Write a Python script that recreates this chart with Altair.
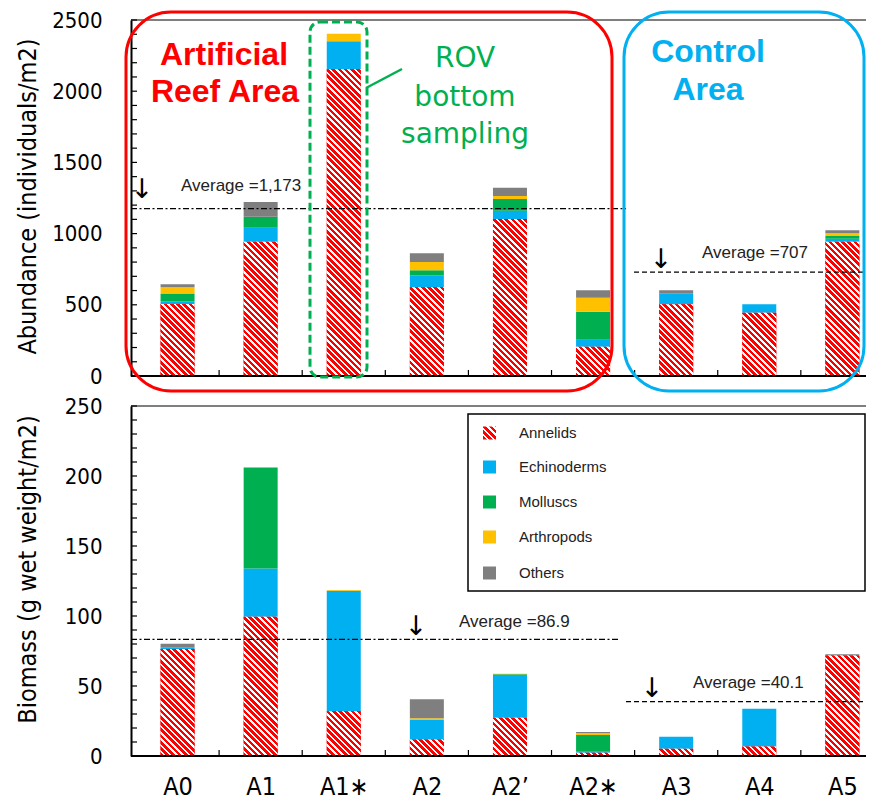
import math
import altair as alt
import pandas as pd

# ---------------- data ----------------
sites = ["A0", "A1", "A1∗", "A2", "A2’", "A2∗", "A3", "A4", "A5"]
taxa = ["Annelids", "Echinoderms", "Molluscs", "Arthropods", "Others"]
taxa_colors = ["#ff0000", "#00b0f0", "#00b050", "#ffc000", "#7f7f7f"]

abund_annelids = [505, 943, 2154, 623, 1102, 206, 503, 445, 943]
abund_echino = [20, 98, 196, 84, 59, 49, 78, 58, 21]
abund_mollusc = [55, 78, 0, 35, 82, 197, 0, 0, 19]
abund_arthro = [43, 0, 54, 58, 21, 98, 0, 0, 19]
abund_others = [21, 103, 0, 62, 58, 52, 21, 0, 21]

bio_annelids = [76.5, 99.5, 32.0, 11.7, 27.4, 2.4, 5.2, 6.7, 71.7]
bio_echino = [1.2, 34.5, 86.0, 14.3, 30.5, 0.7, 8.6, 27.1, 0.0]
bio_mollusc = [0.0, 72.0, 0.0, 0.0, 0.5, 11.9, 0.0, 0.0, 0.0]
bio_arthro = [0.0, 0.0, 0.6, 1.0, 0.4, 1.4, 0.0, 0.0, 0.0]
bio_others = [2.4, 0.0, 0.0, 13.5, 0.0, 0.7, 0.0, 0.0, 0.9]

abund_avg_values = [1175, 730]
abund_avg_labels = ["Average =1,173", "Average =707"]
bio_avg_values = [83.3, 38.8]
bio_avg_labels = ["Average =86.9", "Average =40.1"]

# ---------------- layout constants ----------------
W = 735          # visible plot width (the original frame runs past the right edge)
STEP = 84.25     # pixel distance between neighbouring sites
X_MAX = -0.5 + W / STEP
H_TOP = 356
H_BOT = 350
BAR_W = 34
RED = "#ff0000"
GREEN = "#00b050"
BLUE = "#00b0f0"
AXIS_FONT = "DejaVu Sans Condensed, DejaVu Sans, sans-serif"
TEXT_FONT = "Liberation Sans, Arial, sans-serif"
LABEL_EXPR = "[" + ",".join("'" + s + "'" for s in sites) + "][datum.value]"


def hatch(w, h, period=4.4, frac=0.58):
    h = max(h, 0.5)
    L = (w + h) / math.sqrt(2)
    stops = []
    k = 0
    while k * period < L:
        o0 = round(k * period / L, 5)
        o1 = round(min((k + frac) * period / L, 1), 5)
        o2 = round(min((k + 1) * period / L, 1), 5)
        stops += [
            alt.GradientStop(offset=o0, color=RED),
            alt.GradientStop(offset=o1, color=RED),
            alt.GradientStop(offset=o1, color="#ffffff"),
            alt.GradientStop(offset=o2, color="#ffffff"),
        ]
        k += 1
    d = w * w + h * h
    return alt.LinearGradient(
        gradient="linear", stops=stops,
        x1=0, y1=1, x2=w * (w + h) / d, y2=1 - h * (w + h) / d,
    )


def long_df(series_list):
    rows = []
    for ti, (taxon, vals) in enumerate(zip(taxa, series_list)):
        for i, (s, v) in enumerate(zip(sites, vals)):
            rows.append({"idx": i, "site": s, "taxon": taxon, "ord": ti, "value": v})
    return pd.DataFrame(rows)


def one():
    return pd.DataFrame({"a": [0]})


def text_layer(txt, x, y, size, color="black", font=TEXT_FONT, weight="normal",
               align="left", baseline="alphabetic"):
    return alt.Chart(one()).mark_text(
        text=txt, fontSize=size, color=color, font=font, fontWeight=weight,
        align=align, baseline=baseline,
    ).encode(x=alt.value(x), y=alt.value(y))


def rect_layer(x, x2, y, y2, **kw):
    return alt.Chart(one()).mark_rect(**kw).encode(
        x=alt.value(x), x2=alt.value(x2), y=alt.value(y), y2=alt.value(y2))


def hline(x, x2, y, **kw):
    return alt.Chart(one()).mark_rule(**kw).encode(
        x=alt.value(x), x2=alt.value(x2), y=alt.value(y))


def panel(series, ymax, height, ytitle, tick_step, label_step, show_labels,
          title_y, avg_values, avg_spans, avg_dashes, extra):
    px = height / ymax
    df = long_df(series)
    x_scale = alt.Scale(domain=[-0.5, X_MAX], nice=False, zero=False)
    x_axis = alt.Axis(values=list(range(len(sites))), labelExpr=LABEL_EXPR,
                      labels=show_labels, ticks=False, tickSize=0, domain=False,
                      grid=False, labelFlush=False, labelOverlap=False,
                      labelAngle=0, labelPadding=18, labelFontSize=25,
                      labelFont=AXIS_FONT, labelColor="black", title=None)
    xenc = alt.X("idx:Q", scale=x_scale, axis=x_axis, title=None)
    y_axis = alt.Axis(values=list(range(0, ymax + 1, label_step)), format="d",
                      ticks=False, tickSize=0, labelPadding=29, labelFontSize=22,
                      labelFont=AXIS_FONT, labelColor="black", grid=False,
                      domainColor="black", domainWidth=2,
                      titleFont=AXIS_FONT, titleFontSize=25, titleFontWeight="normal",
                      titleColor="black", titleX=-104, titleY=title_y,
                      titleAngle=270, titleAlign="center", titleBaseline="middle")
    y_scale = alt.Scale(domain=[0, ymax], nice=False, zero=True)
    ystack = alt.Y("value:Q", scale=y_scale, axis=y_axis, title=ytitle, stack="zero")
    yenc = alt.Y("value:Q", scale=y_scale, axis=y_axis, title=ytitle, stack=None)

    base = alt.Chart(df).mark_bar(width=BAR_W, orient="vertical").encode(
        x=xenc, y=ystack,
        color=alt.Color("taxon:N", scale=alt.Scale(domain=taxa, range=taxa_colors), legend=None),
        order=alt.Order("ord:Q", sort="ascending"),
    )
    layers = [base]
    # hatched Annelids overlay, one per bar
    for i, v in enumerate(series[0]):
        layers.append(
            alt.Chart(pd.DataFrame({"idx": [i], "value": [v]}))
            .mark_bar(width=BAR_W, orient="vertical", fill=hatch(BAR_W, v * px))
            .encode(x=xenc, y=yenc)
        )
    # inward minor ticks on y axis
    tick_df = pd.DataFrame({"value": list(range(tick_step, ymax + 1, tick_step))})
    layers.append(alt.Chart(tick_df).mark_rule(color="black", strokeWidth=1.2).encode(
        y=yenc, x=alt.value(0), x2=alt.value(6)))
    # inward x ticks on the boundaries between sites
    xt_df = pd.DataFrame({"idx": [i - 0.5 for i in range(1, len(sites))]})
    layers.append(alt.Chart(xt_df).mark_rule(color="black", strokeWidth=1.2).encode(
        x=xenc, y=alt.value(height - 6), y2=alt.value(height)))
    # frame lines: top border and x axis line
    layers.append(hline(0, W, 0, color="black", strokeWidth=1.2))
    layers.append(hline(0, W, height, color="black", strokeWidth=2.2))
    # average lines
    for val, (xa, xb), dash in zip(avg_values, avg_spans, avg_dashes):
        layers.append(alt.Chart(pd.DataFrame({"value": [val]})).mark_rule(
            color="black", strokeWidth=1.2, strokeDash=dash).encode(
            y=yenc, x=alt.value(xa), x2=alt.value(xb)))
    layers += extra
    return alt.layer(*layers).properties(width=W, height=height)


DASHDOT = [6, 2.5, 2, 2.5]
DASH = [5, 3]
ARROW = "DejaVu Sans"
AVG_SIZE = 17

top_extra = [
    # average annotations
    text_layer(abund_avg_labels[0], 50, 171, AVG_SIZE, color="#222222"),
    text_layer("↓", 11, 170, 27, font=ARROW, align="center", baseline="middle"),
    text_layer(abund_avg_labels[1], 571, 238, AVG_SIZE, color="#222222"),
    text_layer("↓", 530, 240, 27, font=ARROW, align="center", baseline="middle"),
    # area labels
    text_layer("Artificial", 93, 45, 32, color="#ff0000", weight="bold", align="center"),
    text_layer("Reef Area", 94, 82, 32, color="#ff0000", weight="bold", align="center"),
    text_layer("Control", 577, 42, 32, color=BLUE, weight="bold", align="center"),
    text_layer("Area", 577, 80, 32, color=BLUE, weight="bold", align="center"),
    text_layer("ROV", 334, 47, 28, color=GREEN, font="DejaVu Sans", align="center"),
    text_layer("bottom", 334, 86, 28, color=GREEN, font="DejaVu Sans", align="center"),
    text_layer("sampling", 334, 123, 28, color=GREEN, font="DejaVu Sans", align="center"),
    # connector line
    alt.Chart(one()).mark_rule(color=GREEN, strokeWidth=2.5).encode(
        x=alt.value(235), y=alt.value(68), x2=alt.value(271), y2=alt.value(49)),
    # outlines
    rect_layer(-5, 481, -8, 371, fill="transparent", stroke="#ff0000", strokeWidth=3, cornerRadius=45),
    rect_layer(493, W - 2, -8, 371, fill="transparent", stroke=BLUE, strokeWidth=3, cornerRadius=45),
    rect_layer(179, 236, 2, 357, fill="transparent", stroke=GREEN, strokeWidth=3,
               cornerRadius=10, strokeDash=[8, 4]),
]

legend_rows = [27, 61, 96, 131, 167]
bot_extra = [
    text_layer(bio_avg_labels[0], 328, 221, AVG_SIZE, color="#222222"),
    text_layer("↓", 285, 221, 27, font=ARROW, align="center", baseline="middle"),
    text_layer(bio_avg_labels[1], 562, 282, AVG_SIZE, color="#222222"),
    text_layer("↓", 521, 283, 27, font=ARROW, align="center", baseline="middle"),
    rect_layer(337, W - 1, 8, 185, fill="white", stroke="black", strokeWidth=1.5),
]
for taxon, col, ry in zip(taxa, taxa_colors, legend_rows):
    fill = hatch(13, 13) if taxon == "Annelids" else col
    bot_extra.append(rect_layer(352, 365, ry - 6.5, ry + 6.5, fill=fill))
    bot_extra.append(text_layer(taxon, 388, ry, 15, color="#222222", baseline="middle"))

top = panel([abund_annelids, abund_echino, abund_mollusc, abund_arthro, abund_others],
            2500, H_TOP, "Abundance (individuals/m2)", 100, 500, False, 176,
            abund_avg_values, [(0, 495), (503, W)], [DASHDOT, DASH], top_extra)
bottom = panel([bio_annelids, bio_echino, bio_mollusc, bio_arthro, bio_others],
               250, H_BOT, "Biomass (g wet weight/m2)", 10, 50, True, 163,
               bio_avg_values, [(0, 488), (495, W)], [DASHDOT, DASH], bot_extra)

chart = alt.vconcat(top, bottom, spacing=30, bounds="flush").properties(
    padding={"left": 7, "top": 1, "right": 0, "bottom": 0},
).configure_view(stroke=None)

chart.save("out.html", embed_options={"renderer": "svg", "actions": False})
